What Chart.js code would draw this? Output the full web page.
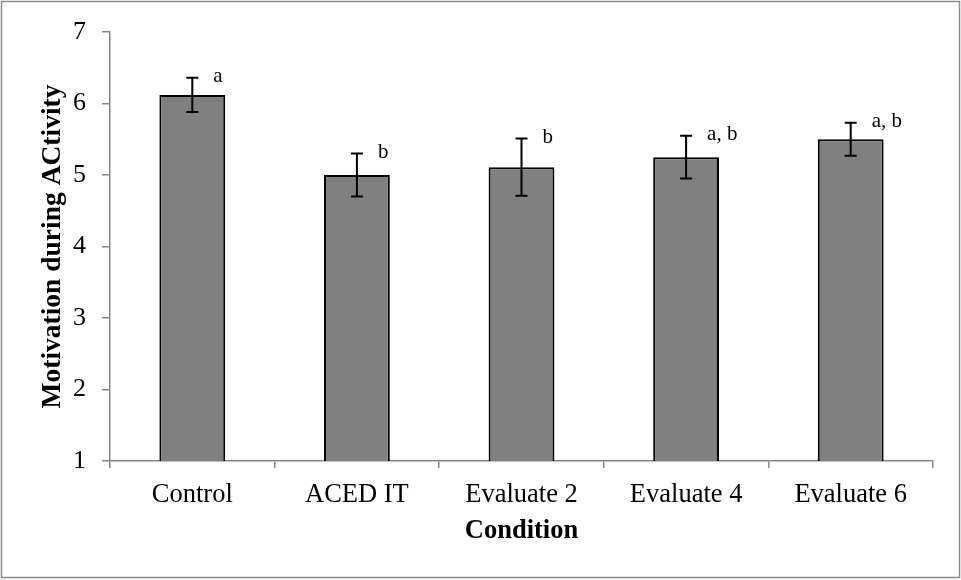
<!DOCTYPE html>
<html>
<head>
<meta charset="utf-8">
<script src="https://cdn.jsdelivr.net/npm/chart.js@4/dist/chart.umd.min.js"></script>
<style>
    html, body { margin: 0; padding: 0; background: #fff; }
    #wrap { width: 961px; height: 580px; }
</style>
</head>
<body>
<div id="wrap"><canvas id="motivationChart" width="961" height="580"></canvas></div>
<script>
const conditions = ['Control', 'ACED IT', 'Evaluate 2', 'Evaluate 4', 'Evaluate 6'];
const means = [6.12, 5.00, 5.11, 5.25, 5.50];
const errors = [0.24, 0.30, 0.40, 0.30, 0.23];
const letters = ['a', 'b', 'b', 'a, b', 'a, b'];
const yTicks = [1, 2, 3, 4, 5, 6, 7];

const axisColor = '#868686';
const serif = "'Liberation Serif', 'Times New Roman', serif";

// error bars + significance letters, drawn from the scales
const errorBarPlugin = {
    id: 'errorBars',
    afterDatasetsDraw(chart) {
        const { ctx } = chart;
        const yScale = chart.scales.y;
        const meta = chart.getDatasetMeta(0);
        ctx.save();
        ctx.strokeStyle = '#000';
        ctx.lineWidth = 2;
        meta.data.forEach((bar, i) => {
            const x = bar.x;
            const top = yScale.getPixelForValue(means[i] + errors[i]);
            const bottom = yScale.getPixelForValue(means[i] - errors[i]);
            ctx.beginPath();
            ctx.moveTo(x, top);
            ctx.lineTo(x, bottom);
            ctx.moveTo(x - 6, top);
            ctx.lineTo(x + 6, top);
            ctx.moveTo(x - 6, bottom);
            ctx.lineTo(x + 6, bottom);
            ctx.stroke();

            ctx.fillStyle = '#000';
            ctx.font = '21px ' + serif;
            ctx.textAlign = 'left';
            ctx.textBaseline = 'middle';
            ctx.fillText(letters[i], x + 21, top - 1);
        });
        ctx.restore();
    },
};

const framePlugin = {
    id: 'frame',
    beforeDraw(chart) {
        const { ctx } = chart;
        ctx.save();
        ctx.fillStyle = '#fff';
        ctx.fillRect(0, 0, chart.width, chart.height);
        ctx.strokeStyle = '#8c8c8c';
        ctx.lineWidth = 1.5;
        ctx.strokeRect(1.5, 1.5, 958, 576);
        ctx.restore();
    },
};

new Chart(document.getElementById('motivationChart'), {
    type: 'bar',
    data: {
        labels: conditions,
        datasets: [{
            label: 'Motivation',
            data: means,
            backgroundColor: '#808080',
            borderColor: '#000',
            borderWidth: 2,
            barPercentage: 0.4,
            categoryPercentage: 1,
        }],
    },
    options: {
        responsive: false,
        animation: false,
        events: [],
        layout: { padding: { left: 0, top: 32, right: 28, bottom: 0 } },
        plugins: {
            legend: { display: false },
            tooltip: { enabled: false },
        },
        scales: {
            x: {
                afterFit(scale) { scale.height = 119; },
                grid: {
                    drawOnChartArea: false,
                    drawTicks: true,
                    tickLength: 7,
                    color: axisColor,
                    lineWidth: 1.5,
                },
                border: { display: true, color: axisColor, width: 1.5 },
                ticks: {
                    color: '#000',
                    padding: 11,
                    font: { family: serif, size: 26.5 },
                },
                title: {
                    display: true,
                    text: 'Condition',
                    color: '#000',
                    font: { family: serif, size: 26.5, weight: 'bold' },
                    padding: { top: 0, bottom: 33 },
                },
            },
            y: {
                min: 1,
                max: 7,
                afterFit(scale) { scale.width = 110; },
                afterBuildTicks(scale) {
                    scale.ticks = yTicks.map(v => ({ value: v }));
                },
                grid: {
                    drawOnChartArea: false,
                    drawTicks: true,
                    tickLength: 8,
                    color: axisColor,
                    lineWidth: 1.5,
                },
                border: { display: true, color: axisColor, width: 1.5 },
                ticks: {
                    color: '#000',
                    padding: 16,
                    font: { family: serif, size: 26 },
                },
                title: {
                    display: true,
                    text: 'Motivation during ACtivity',
                    color: '#000',
                    font: { family: serif, size: 27.5, weight: 'bold' },
                    padding: { top: 36, bottom: 0 },
                },
            },
        },
    },
    plugins: [framePlugin, errorBarPlugin],
});
</script>
</body>
</html>
